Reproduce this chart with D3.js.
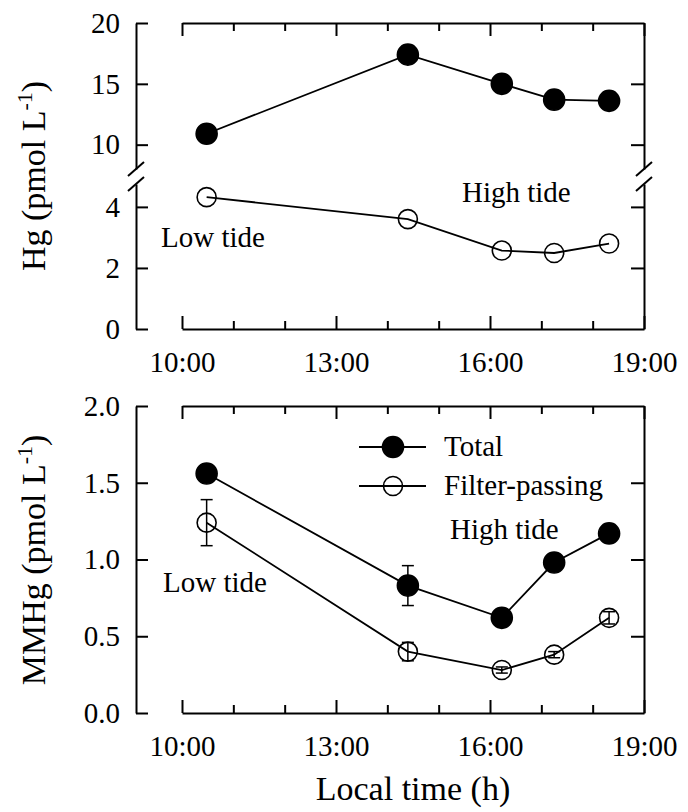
<!DOCTYPE html>
<html lang="en">
<head>
  <meta charset="UTF-8">
  <title>Hg and MMHg vs local time</title>
  <script src="https://d3js.org/d3.v7.min.js"></script>
  <style>
    body { margin: 0; background: #fff; }
    .axis path, .axis line {
      fill: none;
      stroke: #000;
      stroke-width: 2;
    }
    .axis text, .lbl {
      font-family: "Liberation Serif", "Times New Roman", serif;
      font-size: 29px;
      fill: #000;
    }
    .title {
      font-family: "Liberation Serif", "Times New Roman", serif;
      font-size: 34px;
      fill: #000;
    }
  </style>
</head>
<body>
  <svg id="svg" width="688" height="812"></svg>
  <script>
    // data
    var times = [10.48, 14.40, 16.23, 17.25, 18.32]   // hours
    var hgTotal = [10.9, 17.4, 15.0, 13.7, 13.6]
    var hgFilter = [4.32, 3.6, 2.57, 2.49, 2.8]
    var mmhgTotal = [1.56, 0.83, 0.62, 0.98, 1.17]
    var mmhgTotalErr = [0, 0.13, 0, 0, 0]
    var mmhgFilter = [1.24, 0.40, 0.28, 0.38, 0.62]
    var mmhgFilterErr = [0.15, 0.06, 0.02, 0.02, 0.04]

    var xMajor = [10, 13, 16, 19]
    var xMinor = [11, 12, 14, 15, 17, 18]
    var hgUpperTicks = [10, 15, 20]
    var hgLowerTicks = [0, 2, 4]
    var mmhgTicks = [0, 0.5, 1, 1.5, 2]

    var svg = d3.select('#svg')
    var yAxisX = 136

    var x = d3.scaleLinear().domain([10, 19]).range([182, 644])

    // top panel: broken y axis
    var yUp = d3.scaleLinear().domain([8, 20]).range([169, 23])
    var yLo = d3.scaleLinear().domain([0, 4.75]).range([329, 184])
    // bottom panel
    var yM = d3.scaleLinear().domain([0, 2]).range([713, 406])

    function xFrame(top, bottom) {
      var g = svg.append('g').attr('class', 'axis')
      g.append('g').attr('transform', 'translate(0,' + top + ')')
        .call(d3.axisBottom(x).tickValues(xMajor).tickSizeInner(13).tickSizeOuter(0).tickFormat(''))
      g.append('g').attr('transform', 'translate(0,' + top + ')')
        .call(d3.axisBottom(x).tickValues(xMinor).tickSizeInner(8).tickSizeOuter(0).tickFormat(''))
        .select('.domain').remove()
      g.append('g').attr('transform', 'translate(0,' + bottom + ')')
        .call(d3.axisBottom(x).tickValues(xMajor).tickSizeInner(-13).tickSizeOuter(0)
          .tickPadding(22).tickFormat(function (d) { return d + ':00' }))
      g.append('g').attr('transform', 'translate(0,' + bottom + ')')
        .call(d3.axisBottom(x).tickValues(xMinor).tickSizeInner(-8).tickSizeOuter(0).tickFormat(''))
        .select('.domain').remove()
    }

    function yLeft(scale, ticks, fmt) {
      svg.append('g').attr('class', 'axis')
        .attr('transform', 'translate(' + yAxisX + ',0)')
        .call(d3.axisLeft(scale).tickValues(ticks).tickSizeInner(-12).tickSizeOuter(0)
          .tickPadding(16).tickFormat(fmt))
    }

    function yRight(scale, ticks) {
      svg.append('g').attr('class', 'axis')
        .attr('transform', 'translate(' + x.range()[1] + ',0)')
        .call(d3.axisRight(scale).tickValues(ticks).tickSizeInner(-13).tickSizeOuter(0).tickFormat(''))
    }

    function series(yScale, vals, filled, err) {
      var line = d3.line()
        .x(function (d, i) { return x(times[i]) })
        .y(function (d) { return yScale(d) })
      svg.append('path').datum(vals)
        .attr('d', line).attr('fill', 'none')
        .attr('stroke', '#000').attr('stroke-width', 1.8)
      if (err) {
        var eb = svg.append('g').attr('stroke', '#000').attr('stroke-width', 1.5)
        vals.forEach(function (v, i) {
          if (!err[i]) return
          var cx = x(times[i]), y1 = yScale(v - err[i]), y2 = yScale(v + err[i])
          eb.append('line').attr('x1', cx).attr('x2', cx).attr('y1', y1).attr('y2', y2)
          eb.append('line').attr('x1', cx - 6).attr('x2', cx + 6).attr('y1', y1).attr('y2', y1)
          eb.append('line').attr('x1', cx - 6).attr('x2', cx + 6).attr('y1', y2).attr('y2', y2)
        })
      }
      svg.append('g').selectAll('circle').data(vals).enter()
        .append('circle')
        .attr('cx', function (d, i) { return x(times[i]) })
        .attr('cy', function (d) { return yScale(d) })
        .attr('r', filled ? 10.5 : 9.5)
        .attr('fill', filled ? '#000' : 'none')
        .attr('stroke', '#000').attr('stroke-width', 1.6)
    }

    function label(txt, lx, ly) {
      svg.append('text').attr('class', 'lbl').attr('x', lx).attr('y', ly).text(txt)
    }

    function yTitle(prefix, cy) {
      var t = svg.append('text').attr('class', 'title')
        .attr('transform', 'translate(45,' + cy + ') rotate(-90)')
        .attr('text-anchor', 'middle')
      t.append('tspan').text(prefix + ' (pmol L')
      t.append('tspan').attr('dy', -13).style('font-size', '22px').text('-1')
      t.append('tspan').attr('dy', 13).text(')')
    }

    // ---------- top panel ----------
    xFrame(23, 329)
    yLeft(yUp, hgUpperTicks, d3.format('d'))
    yLeft(yLo, hgLowerTicks, d3.format('d'))
    yRight(yUp, [10, 15])
    yRight(yLo, [2, 4])

    // break marks
    var brk = svg.append('g').attr('stroke', '#000').attr('stroke-width', 2)
    ;[yAxisX, x.range()[1]].forEach(function (bx) {
      ;[yUp.range()[0], yLo.range()[1]].forEach(function (by) {
        brk.append('line').attr('x1', bx - 8).attr('y1', by + 7).attr('x2', bx + 8).attr('y2', by - 7)
      })
    })

    series(yUp, hgTotal, true)
    series(yLo, hgFilter, false)
    label('Low tide', 161, 247)
    label('High tide', 462, 202)
    yTitle('Hg', 176)

    // ---------- bottom panel ----------
    xFrame(406, 713)
    yLeft(yM, mmhgTicks, d3.format('.1f'))
    yRight(yM, [0.5, 1, 1.5])
    series(yM, mmhgTotal, true, mmhgTotalErr)
    series(yM, mmhgFilter, false, mmhgFilterErr)
    label('Low tide', 163, 592)
    label('High tide', 450, 539)
    yTitle('MMHg', 560)

    // legend
    var leg = svg.append('g')
    var legRows = [{ name: 'Total', filled: true, y: 447 }, { name: 'Filter-passing', filled: false, y: 486 }]
    legRows.forEach(function (r) {
      leg.append('line').attr('x1', 359).attr('x2', 426).attr('y1', r.y).attr('y2', r.y)
        .attr('stroke', '#000').attr('stroke-width', 1.8)
      leg.append('circle').attr('cx', 393).attr('cy', r.y).attr('r', r.filled ? 10.5 : 9.5)
        .attr('fill', r.filled ? '#000' : 'none').attr('stroke', '#000').attr('stroke-width', 1.6)
      leg.append('text').attr('class', 'lbl').attr('x', 444).attr('y', r.y + 9).text(r.name)
    })

    // x title
    svg.append('text').attr('class', 'title')
      .attr('x', (x.range()[0] + x.range()[1]) / 2).attr('y', 800)
      .attr('text-anchor', 'middle').text('Local time (h)')
  </script>
</body>
</html>
